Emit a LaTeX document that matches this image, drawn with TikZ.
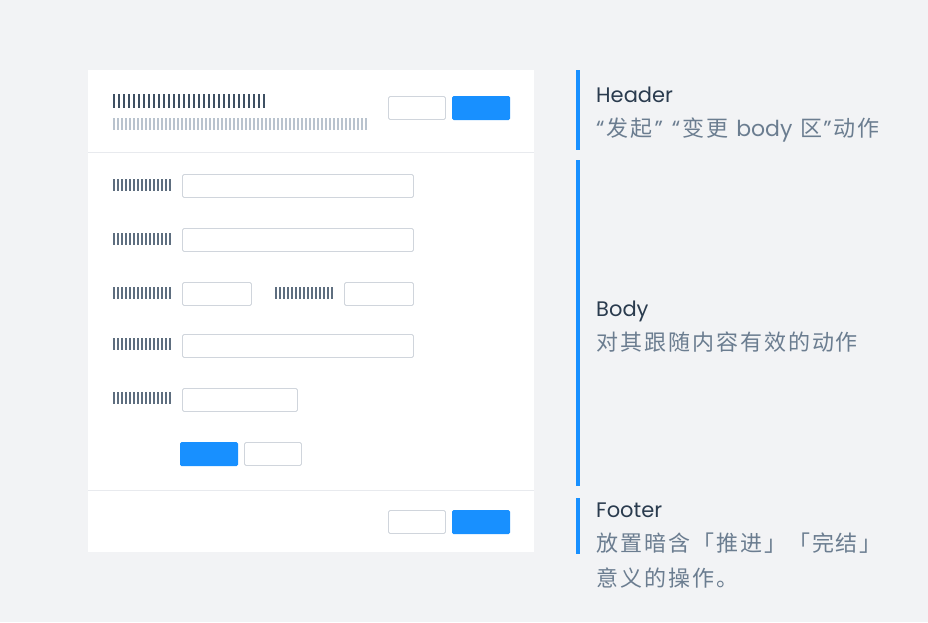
\documentclass[tikz,border=0pt]{standalone}
\usepackage{fontspec}
\setmainfont{Noto Sans CJK SC}
\newfontfamily\cjkdesc[LetterSpace=9]{Noto Sans CJK SC}
\newfontfamily\latf{Poppins}
\definecolor{bgc}{HTML}{F2F3F5}
\definecolor{linec}{HTML}{E8EAEE}
\definecolor{inbord}{HTML}{D0D5DC}
\definecolor{bluec}{HTML}{1890FF}
\definecolor{titlec}{HTML}{2A3B4E}
\definecolor{descc}{HTML}{6B7D90}
\definecolor{bardark}{HTML}{3E5063}
\definecolor{barmid}{HTML}{5E6E7F}
\definecolor{barlight}{HTML}{B9C3CE}
\newcommand\barrow[7]{% x0, ytop, n, dx, h, color, width
  \foreach \i in {1,...,#3}{\draw[#6, line width=#7] ({#1+(\i-1)*#4+#7/2},#2) -- ++(0,#5);}}
\newcommand\myLq{{\latf\char"201C}}
\newcommand\myRq{{\latf\char"201D}}
\tikzset{
  inbox/.style={draw=inbord, fill=white, line width=0.9, rounded corners=1.5},
  bluebtn/.style={fill=bluec, rounded corners=1.5},
  sidebar/.style={fill=bluec},
  ttl/.style={anchor=base west, inner sep=0, text=titlec, font=\latf\fontsize{21}{24}\selectfont},
  dsc/.style={anchor=base west, inner sep=0, text=descc, font=\cjkdesc\fontsize{22}{26}\selectfont, align=left},
}
\begin{document}
\begin{tikzpicture}[x=1pt,y=-1pt]
\fill[bgc] (0,0) rectangle (928,622);
\useasboundingbox (0,0) rectangle (928,622);
% card
\node[fill=white, inner sep=0, minimum width=446, minimum height=482, anchor=north west] (card) at (88,70) {};
\draw[linec, line width=1] (88,152.5) -- (534,152.5);
\draw[linec, line width=1] (88,490.5) -- (534,490.5);
% header
\barrow{113}{94}{31}{5}{14}{bardark}{2}
\barrow{113}{118}{64}{4}{12}{barlight}{1.5}
\draw[inbox] (388.5,96.5) rectangle (445.5,119.5) node[inner sep=0] (hbtn1) {};
\fill[bluebtn] (452,96) rectangle (510,120) node[inner sep=0] (hbtn2) {};
% body rows
\barrow{113}{179}{15}{4}{12}{barmid}{1.5}
\draw[inbox] (182.5,174.5) rectangle (413.5,197.5) node[inner sep=0] (in1) {};
\barrow{113}{233}{15}{4}{12}{barmid}{1.5}
\draw[inbox] (182.5,228.5) rectangle (413.5,251.5) node[inner sep=0] (in2) {};
\barrow{113}{287}{15}{4}{12}{barmid}{1.5}
\draw[inbox] (182.5,282.5) rectangle (251.5,305.5) node[inner sep=0] (in3) {};
\barrow{275}{287}{15}{4}{12}{barmid}{1.5}
\draw[inbox] (344.5,282.5) rectangle (413.5,305.5) node[inner sep=0] (in4) {};
\barrow{113}{338}{15}{4}{12}{barmid}{1.5}
\draw[inbox] (182.5,334.5) rectangle (413.5,357.5) node[inner sep=0] (in5) {};
\barrow{113}{392}{15}{4}{12}{barmid}{1.5}
\draw[inbox] (182.5,388.5) rectangle (297.5,411.5) node[inner sep=0] (in6) {};
\fill[bluebtn] (180,442) rectangle (238,466) node[inner sep=0] (bbtn1) {};
\draw[inbox] (244.5,442.5) rectangle (301.5,465.5) node[inner sep=0] (bbtn2) {};
% footer
\draw[inbox] (388.5,510.5) rectangle (445.5,533.5) node[inner sep=0] (fbtn1) {};
\fill[bluebtn] (452,510) rectangle (510,534) node[inner sep=0] (fbtn2) {};
% side bars
\fill[sidebar] (576,70) rectangle (580,150) node[inner sep=0] (sb1) {};
\fill[sidebar] (576,160) rectangle (580,486) node[inner sep=0] (sb2) {};
\fill[sidebar] (576,498) rectangle (580,554) node[inner sep=0] (sb3) {};
% texts
\node[ttl] (th) at (596,102) {Header};
\node[dsc] (dh) at (596,136) {\myLq\hspace{2pt}发起\hspace{2pt}\myRq\hspace{9pt}\myLq\hspace{2pt}变更\hspace{8pt}{\latf body}\hspace{8pt}区\hspace{1pt}\myRq\hspace{2pt}动作};
\node[ttl] (tb) at (596,316) {Body};
\node[dsc] (db) at (596,350) {对其跟随内容有效的动作};
\node[ttl] (tf) at (596,517) {Footer};
\node[dsc] (df1) at (596,551) {放置暗含「推进」「完结」};
\node[dsc] (df2) at (596,586) {意义的操作。};
\end{tikzpicture}
\end{document}
